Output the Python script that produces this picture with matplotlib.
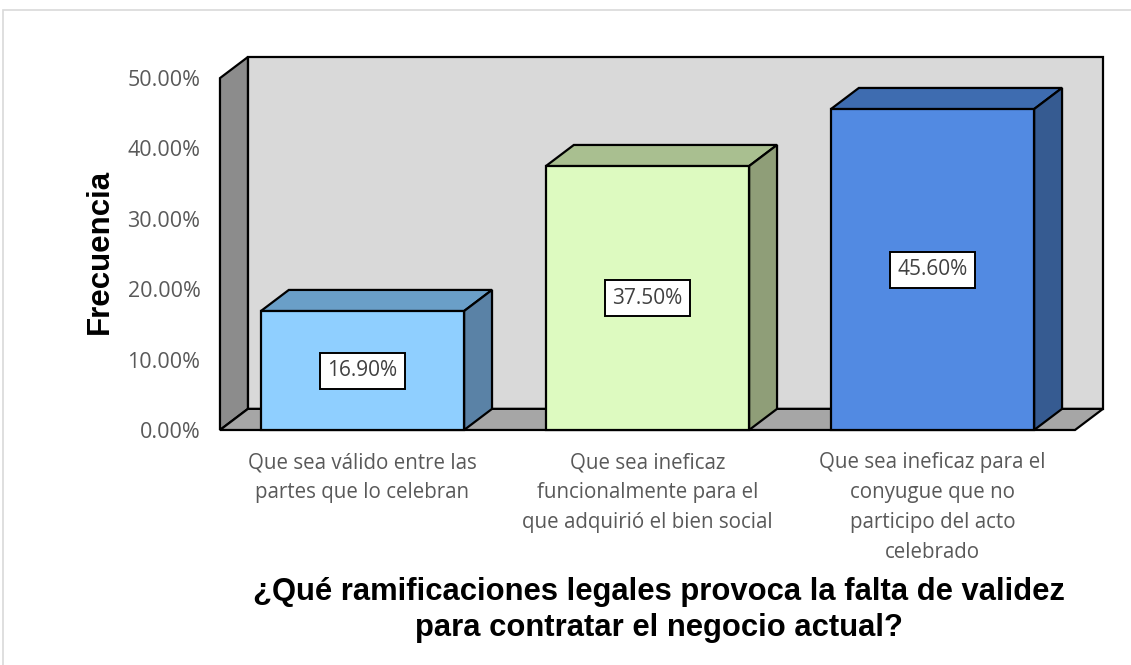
from __future__ import annotations

import matplotlib
matplotlib.use("Agg")
import matplotlib.pyplot as plt
from matplotlib.patches import Polygon, Rectangle


CATEGORIES = [
    "Que sea válido entre las\npartes que lo celebran",
    "Que sea ineficaz\nfuncionalmente para el\nque adquirió el bien social",
    "Que sea ineficaz para el\nconyugue que no\nparticipo del acto\ncelebrado",
]
VALUES = [16.90, 37.50, 45.60]
Y_TICKS = [0, 10, 20, 30, 40, 50]

# front, top, side colours per bar
FRONT_COLORS = ["#8fcfff", "#ddfac0", "#528ae2"]
TOP_COLORS = ["#6a9fc8", "#a9bf90", "#3e6cb0"]
SIDE_COLORS = ["#5a82a6", "#8f9e78", "#365b91"]

XLABEL = "¿Qué ramificaciones legales provoca la falta de validez\npara contratar el negocio actual?"
YLABEL = "Frecuencia"

# pseudo-3D depth offset, data units
DX = 0.098
DY = 3.0
BAR_W = 0.713
YMAX = 50.0

BODY_FONT = "Open Sans"
HEAD_FONT = "Liberation Sans"


def face(ax, pts, color, z=1):
    ax.add_patch(Polygon(pts, closed=True, facecolor=color, edgecolor="black",
                         linewidth=1.6, joinstyle="miter", zorder=z, clip_on=False))


def draw_walls(ax, n):
    x0, x1 = -0.5, n - 0.5
    face(ax, [(x0 + DX, DY), (x1 + DX, DY), (x1 + DX, YMAX + DY), (x0 + DX, YMAX + DY)], "#d9d9d9")
    face(ax, [(x0, 0), (x0, YMAX), (x0 + DX, YMAX + DY), (x0 + DX, DY)], "#8c8c8c")
    face(ax, [(x0, 0), (x1, 0), (x1 + DX, DY), (x0 + DX, DY)], "#a6a6a6")


def draw_bar(ax, i, v, k):
    l, r = i - BAR_W / 2, i + BAR_W / 2
    face(ax, [(l, v), (r, v), (r + DX, v + DY), (l + DX, v + DY)], TOP_COLORS[k], z=3)
    face(ax, [(r, 0), (r + DX, DY), (r + DX, v + DY), (r, v)], SIDE_COLORS[k], z=3)
    face(ax, [(l, 0), (r, 0), (r, v), (l, v)], FRONT_COLORS[k], z=4)
    ax.text(i, v / 2, f"{v:.2f}%", ha="center", va="center", fontsize=15,
            family=BODY_FONT, color="#404040", zorder=5,
            bbox=dict(boxstyle="square,pad=0.36", facecolor="white",
                      edgecolor="black", linewidth=1.4))


def main() -> int:
    fig = plt.figure(figsize=(11.31, 6.65), dpi=100)
    fig.patches.append(Rectangle((0.003, -0.01), 1.0, 0.995, transform=fig.transFigure,
                                 fill=False, edgecolor="#d9d9d9", linewidth=1.2))

    ax = fig.add_axes([0.1945, 0.3534, 0.7807, 0.5609])
    n = len(VALUES)
    ax.set_xlim(-0.5, n - 0.5 + DX)
    ax.set_ylim(0, YMAX + DY)
    for s in ax.spines.values():
        s.set_visible(False)
    ax.patch.set_visible(False)

    draw_walls(ax, n)
    for i, v in enumerate(VALUES):
        draw_bar(ax, i, v, i)

    ax.set_yticks(Y_TICKS)
    ax.set_yticklabels([f"{t:.2f}%" for t in Y_TICKS], family=BODY_FONT, fontsize=15.5, color="#595959")
    ax.set_xticks(range(n))
    ax.set_xticklabels(CATEGORIES, family=BODY_FONT, fontsize=14.8, color="#595959",
                       linespacing=1.55, va="top")
    ax.tick_params(axis="y", length=0, pad=14)
    ax.tick_params(axis="x", length=0, pad=16)

    ax.set_ylabel(YLABEL, family=HEAD_FONT, fontweight="bold", fontsize=22.5)
    ax.yaxis.set_label_coords(-0.119, 0.479)
    fig.text(0.5827, 0.083, XLABEL, ha="center", va="center", family=HEAD_FONT,
             fontweight="bold", fontsize=22.3, linespacing=1.25)

    fig.savefig("out.png", dpi=100)
    plt.close(fig)
    return 0


if __name__ == "__main__":
    raise SystemExit(main())
